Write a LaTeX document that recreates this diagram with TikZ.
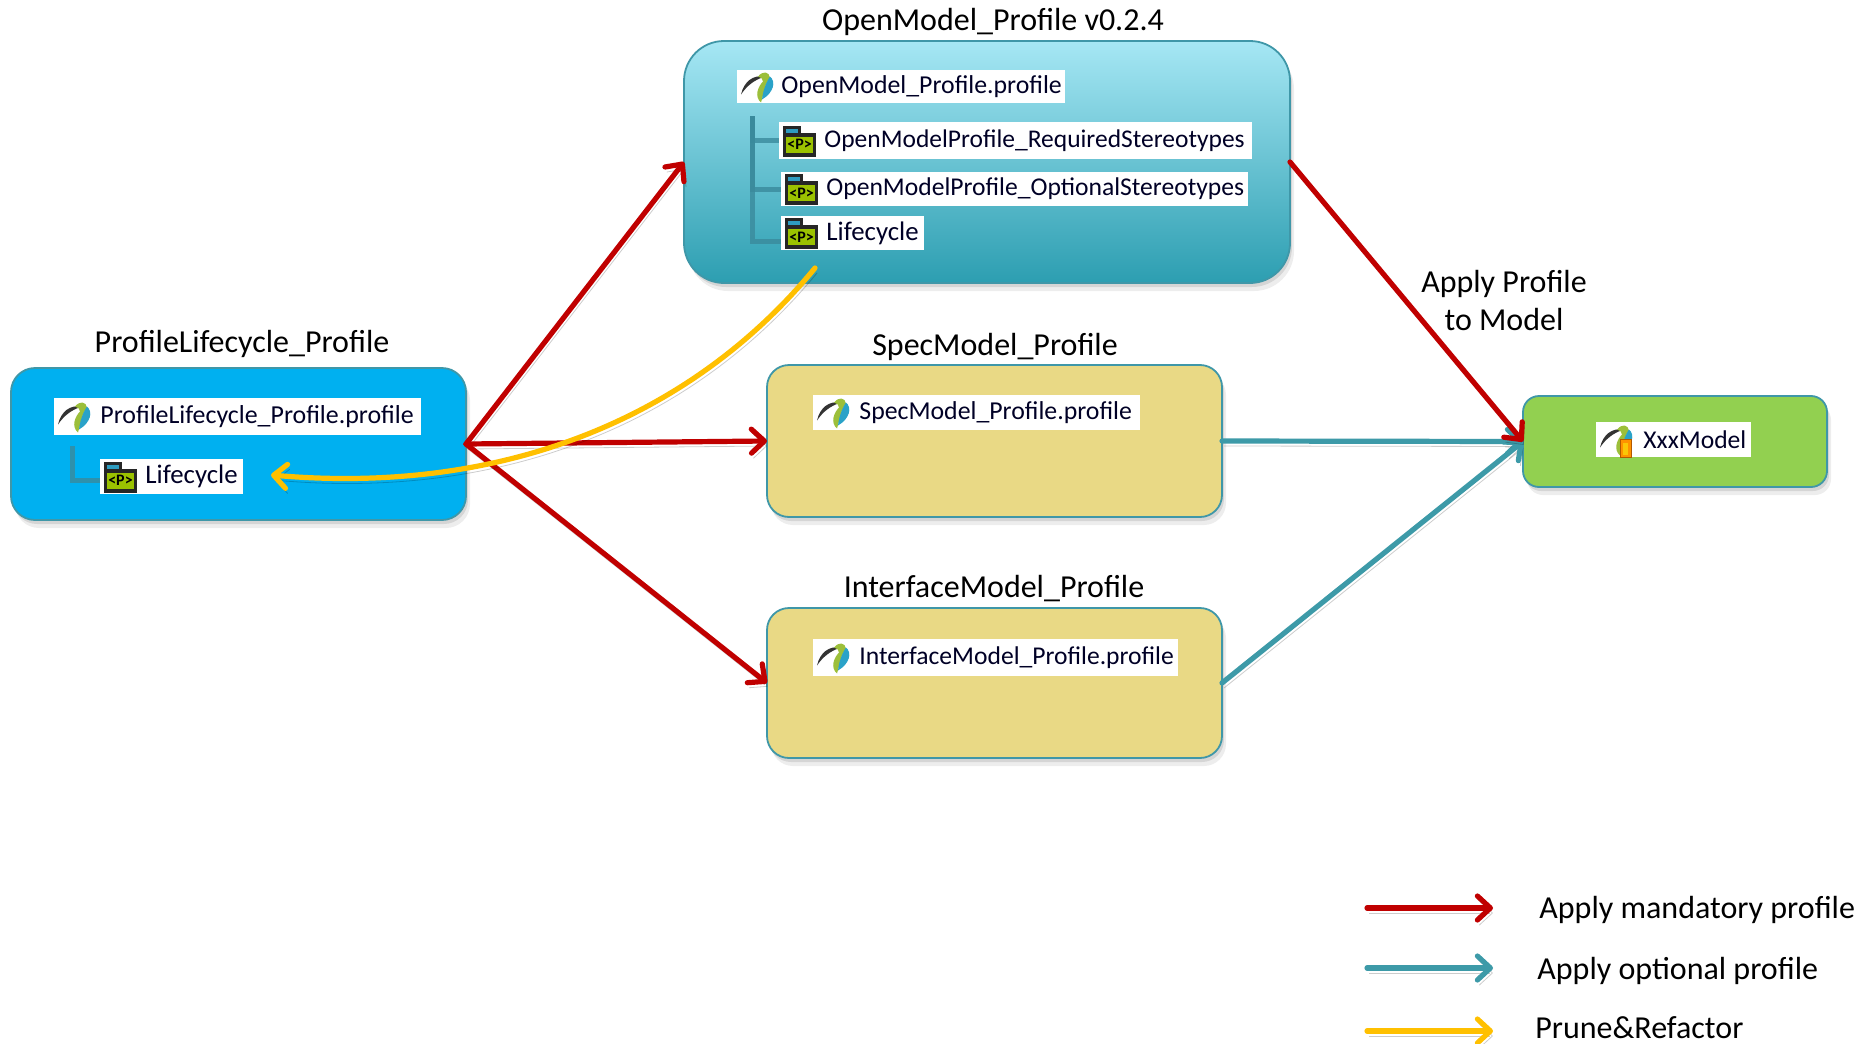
\documentclass[tikz,border=0pt]{standalone}
\usepackage{fontspec}
\setmainfont{Carlito}
\usetikzlibrary{arrows.meta,shadows}

\definecolor{profblue}{HTML}{00B0F0}
\definecolor{profsand}{HTML}{E9D985}
\definecolor{profgreen}{HTML}{92D050}
\definecolor{profedge}{HTML}{3F97A8}
\definecolor{omtop}{HTML}{A6E7F4}
\definecolor{ombottom}{HTML}{2C9EB1}
\definecolor{mandred}{HTML}{C00000}
\definecolor{opteal}{HTML}{3D9AA8}
\definecolor{prunegold}{HTML}{FFC000}
\definecolor{leafgreen}{HTML}{9CBF3A}
\definecolor{leafblue}{HTML}{2AA2C8}
\definecolor{pkggreen}{HTML}{9BC200}
\definecolor{pkgtab}{HTML}{2E9CC0}
\definecolor{treeteal}{HTML}{3A8A9C}

\tikzset{
  x=0.5pt,y=-0.5pt,
  profbox/.style={draw=profedge,line width=0.9pt,outer sep=0pt,inner sep=0pt,
    drop shadow={opacity=.14,shadow xshift=2pt,shadow yshift=-4pt},
    drop shadow={opacity=.22,shadow xshift=1pt,shadow yshift=-2pt}},
  whitebox/.style={fill=white,anchor=west,inner sep=0pt,outer sep=0pt},
  labeltext/.style={anchor=west,inner sep=0pt,text=black!85!blue},
  titletext/.style={inner sep=0pt,font=\fontsize{16}{16}\selectfont},
  apply/.style={line width=2.6pt,line cap=round,-{Straight Barb[length=6.5pt,width=12pt,round]},
    preaction={draw=black,draw opacity=.2,transform canvas={shift={(1pt,-2.5pt)}}}},
  mandatory/.style={apply,draw=mandred},
  optional/.style={apply,draw=opteal},
  prune/.style={apply,draw=prunegold},
  treeline/.style={draw=treeteal,line width=2.5pt,opacity=.8},
  pics/profileicon/.style={code={
    \fill[black!80] (0,8) .. controls (3,-5) and (12,-12) .. (24,-10)
      .. controls (14,-7) and (6,-1) .. (0,8) -- cycle;
    \fill[leafgreen] (17,-10) .. controls (22,-16) and (28,-15) .. (29,-9)
      .. controls (24,-3) and (23,6) .. (20,16)
      .. controls (13,10) and (17,0) .. (22,-5)
      .. controls (22,-8) and (20,-9) .. (17,-10) -- cycle;
    \fill[leafblue] (29,-10) .. controls (35,-5) and (33,6) .. (21,13)
      .. controls (22,4) and (25,-4) .. (29,-10) -- cycle;
  }},
  pics/packageicon/.style={code={
    \fill[black!85] (0,-15) rectangle (18,-6);
    \fill[black!85] (0,-8) rectangle (33,16);
    \fill[pkgtab] (3,-12) rectangle (15,-8);
    \fill[pkggreen] (3,-4) rectangle (30,12);
    \node[inner sep=0pt,font=\bfseries\fontsize{8}{8}\selectfont] at (16.5,4) {<P>};
  }},
  pics/modelicon/.style={code={
    \pic at (0,0) {profileicon};
    \fill[orange!85!yellow,draw=orange!70!black,line width=.4pt] (20,0) rectangle (31,18);
    \fill[yellow!60!orange] (23,3) rectangle (28,15);
  }},
}

\begin{document}
\begin{tikzpicture}
\useasboundingbox (0,0) rectangle (1858,1044);

\node[profbox,minimum width=303pt,minimum height=121pt,rounded corners=20pt,
  top color=omtop,bottom color=ombottom] (openmodel) at (987,162) {};
\node[profbox,minimum width=227.5pt,minimum height=76pt,rounded corners=12pt,fill=profblue]
  (lifecycleprofile) at (238.5,444) {};
\node[profbox,minimum width=227.5pt,minimum height=76pt,rounded corners=11pt,fill=profsand]
  (specmodel) at (994.5,441) {};
\node[profbox,minimum width=227.5pt,minimum height=75pt,rounded corners=11pt,fill=profsand]
  (interfacemodel) at (994.5,683) {};
\node[profbox,minimum width=152pt,minimum height=45.5pt,rounded corners=8pt,fill=profgreen]
  (xxxmodel) at (1675,441.5) {};

\node[titletext] (omtitle) at (993,22) {OpenModel\_Profile v0.2.4};
\node[titletext] (lifetitle) at (242,344) {ProfileLifecycle\_Profile};
\node[titletext] (spectitle) at (995,347) {SpecModel\_Profile};
\node[titletext] (interfacetitle) at (994,589) {InterfaceModel\_Profile};
\node[titletext,align=center] (applytitle) at (1504,301) {Apply Profile\\[3pt]to Model};

\foreach \name/\x/\y/\w/\h/\off/\fs/\txt in {
  omprofile/737/86.5/164/16.5/44/12.9/OpenModel\_Profile.profile,
  omrequired/779/140.5/236.5/18.5/45/12.75/OpenModelProfile\_RequiredStereotypes,
  omoptional/781/189/233.5/17/45/12.8/OpenModelProfile\_OptionalStereotypes,
  omlifecycle/781/233/71.5/17/45/13.4/Lifecycle,
  lifeprofile/54/416.5/183.5/18.5/46/12.95/ProfileLifecycle\_Profile.profile,
  lifelifecycle/100/476.5/71.5/17.5/45/13.4/Lifecycle,
  specprofile/813/412.5/163.5/17.5/46/12.9/SpecModel\_Profile.profile,
  interfaceprofile/813/657.5/182.5/18.5/46/12.8/InterfaceModel\_Profile.profile,
  xxxlabel/1596/439.5/77.5/17.5/47/12.8/XxxModel}
  \node[whitebox,minimum width=\w pt,minimum height=\h pt] (\name) at (\x,\y) {}
    node[labeltext,font=\fontsize{\fs}{15}\selectfont] (\name text) at (\x+\off,\y) {\txt};

\pic at (741,86.5) {profileicon};
\pic at (783,140.5) {packageicon};
\pic at (785,189) {packageicon};
\pic at (785,233) {packageicon};
\pic at (58,416.5) {profileicon};
\pic at (104,476.5) {packageicon};
\pic at (817,412.5) {profileicon};
\pic at (817,657.5) {profileicon};
\pic at (1600,439.5) {modelicon};

\coordinate (omtree) at (752,116);
\coordinate (lifetree) at (72,446);
\draw[treeline] (omtree) |- (omrequired.west);
\draw[treeline] (omtree) |- (omoptional.west);
\draw[treeline] (omtree) |- ([yshift=-4pt]omlifecycle.west);
\draw[treeline] (lifetree) |- ([yshift=-2pt]lifelifecycle.west);

\coordinate (prunestart) at (815,268);
\coordinate (pruneend) at (271,475);

\draw[optional] (specmodel.east) -- (xxxmodel.west);
\draw[optional] (interfacemodel.east) -- (xxxmodel.west);
\draw[mandatory] (openmodel.east) -- (xxxmodel.west);
\draw[mandatory] (lifecycleprofile.east) -- (openmodel.west);
\draw[mandatory] (lifecycleprofile.east) -- (specmodel.west);
\draw[mandatory] (lifecycleprofile.east) -- (interfacemodel.west);
\draw[prune] (prunestart) .. controls (690,420) and (500,495) .. (pruneend);

\foreach \name/\y/\style/\ty/\x/\txt in {
  mandatory/908/mandatory/910/1539/Apply mandatory profile,
  optional/968/optional/971/1537/Apply optional profile,
  prune/1031/prune/1028/1535/Prune\&Refactor}
{
  \coordinate (\name from) at (1367,\y);
  \coordinate (\name to) at (1493,\y);
  \draw[\style] (\name from) -- (\name to);
  \node[titletext,anchor=west] (\name text) at (\x,\ty) {\txt};
}
\end{tikzpicture}
\end{document}
